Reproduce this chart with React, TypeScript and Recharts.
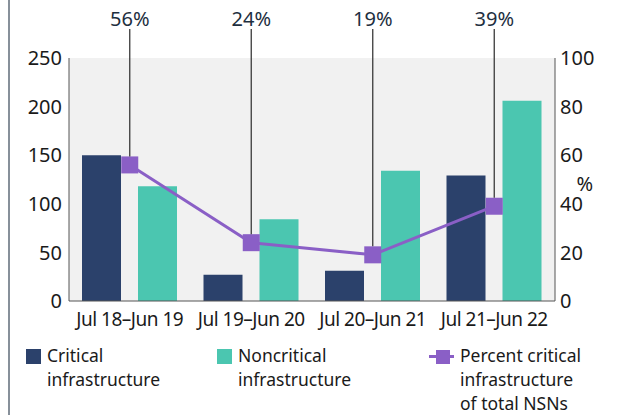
import React from "react";
import { Bar, CartesianGrid, ComposedChart, LabelList, Line, XAxis, YAxis } from "recharts";

const categories = ["Jul 18–Jun 19", "Jul 19–Jun 20", "Jul 20–Jun 21", "Jul 21–Jun 22"];
const critical = [150, 27, 31, 129];
const noncritical = [118, 84, 134, 206];
const percent = [56, 24, 19, 39];
const leftTicks = [0, 50, 100, 150, 200, 250];
const rightTicks = [0, 20, 40, 60, 80, 100];

const legendItems = [
  { lines: ["Critical", "infrastructure"], color: "#2b416b", kind: "box" },
  { lines: ["Noncritical", "infrastructure"], color: "#4bc6b0", kind: "box" },
  { lines: ["Percent critical", "infrastructure", "of total NSNs"], color: "#8a5fc6", kind: "line" },
];

const data = categories.map((name, i) => ({
  name,
  critical: critical[i],
  noncritical: noncritical[i],
  pct: percent[i],
}));

const FONT = "'Noto Sans', 'DejaVu Sans', sans-serif";

function SquareDot(props: any) {
  const { cx, cy } = props;
  if (cx == null || cy == null) return null;
  return <rect x={cx - 8.5} y={cy - 8.5} width={17} height={17} fill="#8a5fc6" />;
}

function PctCallout(props: any) {
  const { x, y, value } = props;
  if (x == null || y == null) return null;
  return (
    <g>
      <line x1={x} y1={29} x2={x} y2={y - 8.5} stroke="#3a3a3a" strokeWidth={1.3} />
      <text x={x} y={26} textAnchor="middle" fill="#1e2f3f" fontSize={20}>{value}%</text>
    </g>
  );
}

export default function App() {
  const legendX = [26, 217, 429];
  return (
    <div style={{ position: "absolute", left: 0, top: 0, width: 623, height: 415, fontFamily: FONT, background: "#fff" }}>
      <div style={{ position: "absolute", left: 8, top: 0, width: 2, height: 415, background: "#87909a" }} />
      <div style={{ position: "absolute", left: 0, top: 0 }}>
        <ComposedChart width={623} height={335} data={data} margin={{ top: 58, right: 0, bottom: 0, left: 0 }} barGap={17}>
          <CartesianGrid fill="#f1f1f1" stroke="none" horizontal={false} vertical={false} />
          <XAxis
            dataKey="name"
            height={34}
            tickLine={false}
            tickSize={0}
            tickMargin={12}
            axisLine={{ stroke: "#555" }}
            tick={{ fill: "#1a1a1a", fontSize: 19, letterSpacing: -0.5 }}
            interval={0}
          />
          <YAxis
            yAxisId="left"
            width={69}
            domain={[0, 250]}
            ticks={leftTicks}
            tickLine={false}
            tickSize={0}
            tickMargin={7}
            axisLine={{ stroke: "#555" }}
            tick={{ fill: "#1a1a1a", fontSize: 20 }}
          />
          <YAxis
            yAxisId="right"
            orientation="right"
            width={68}
            domain={[0, 100]}
            ticks={rightTicks}
            tickLine={false}
            tickSize={0}
            tickMargin={5}
            axisLine={{ stroke: "#555" }}
            tick={{ fill: "#1a1a1a", fontSize: 20, textAnchor: "start" }}
            label={{ value: "%", position: "insideRight", offset: 30, dy: 4, fill: "#1a1a1a", fontSize: 20 }}
          />
          <Bar yAxisId="left" dataKey="critical" fill="#2b416b" barSize={39} isAnimationActive={false} />
          <Bar yAxisId="left" dataKey="noncritical" fill="#4bc6b0" barSize={39} isAnimationActive={false} />
          <Line
            yAxisId="right"
            dataKey="pct"
            stroke="#8a5fc6"
            strokeWidth={3}
            dot={<SquareDot />}
            activeDot={false}
            isAnimationActive={false}
          >
            <LabelList dataKey="pct" content={<PctCallout />} />
          </Line>
        </ComposedChart>
      </div>
      {legendItems.map((item, i) => (
        <div key={i} style={{ position: "absolute", left: legendX[i], top: 344, display: "flex", alignItems: "flex-start" }}>
          {item.kind === "box" ? (
            <div style={{ width: 15, height: 15, background: item.color, marginTop: 5, marginRight: 6 }} />
          ) : (
            <div style={{ position: "relative", width: 25, height: 20, marginRight: 6 }}>
              <div style={{ position: "absolute", left: 0, top: 11, width: 25, height: 3, background: item.color }} />
              <div style={{ position: "absolute", left: 7, top: 6, width: 14, height: 14, background: item.color }} />
            </div>
          )}
          <div style={{ fontSize: 17.5, lineHeight: "23.8px", color: "#1a1a1a" }}>
            {item.lines.map((l, j) => <div key={j}>{l}</div>)}
          </div>
        </div>
      ))}
    </div>
  );
}
